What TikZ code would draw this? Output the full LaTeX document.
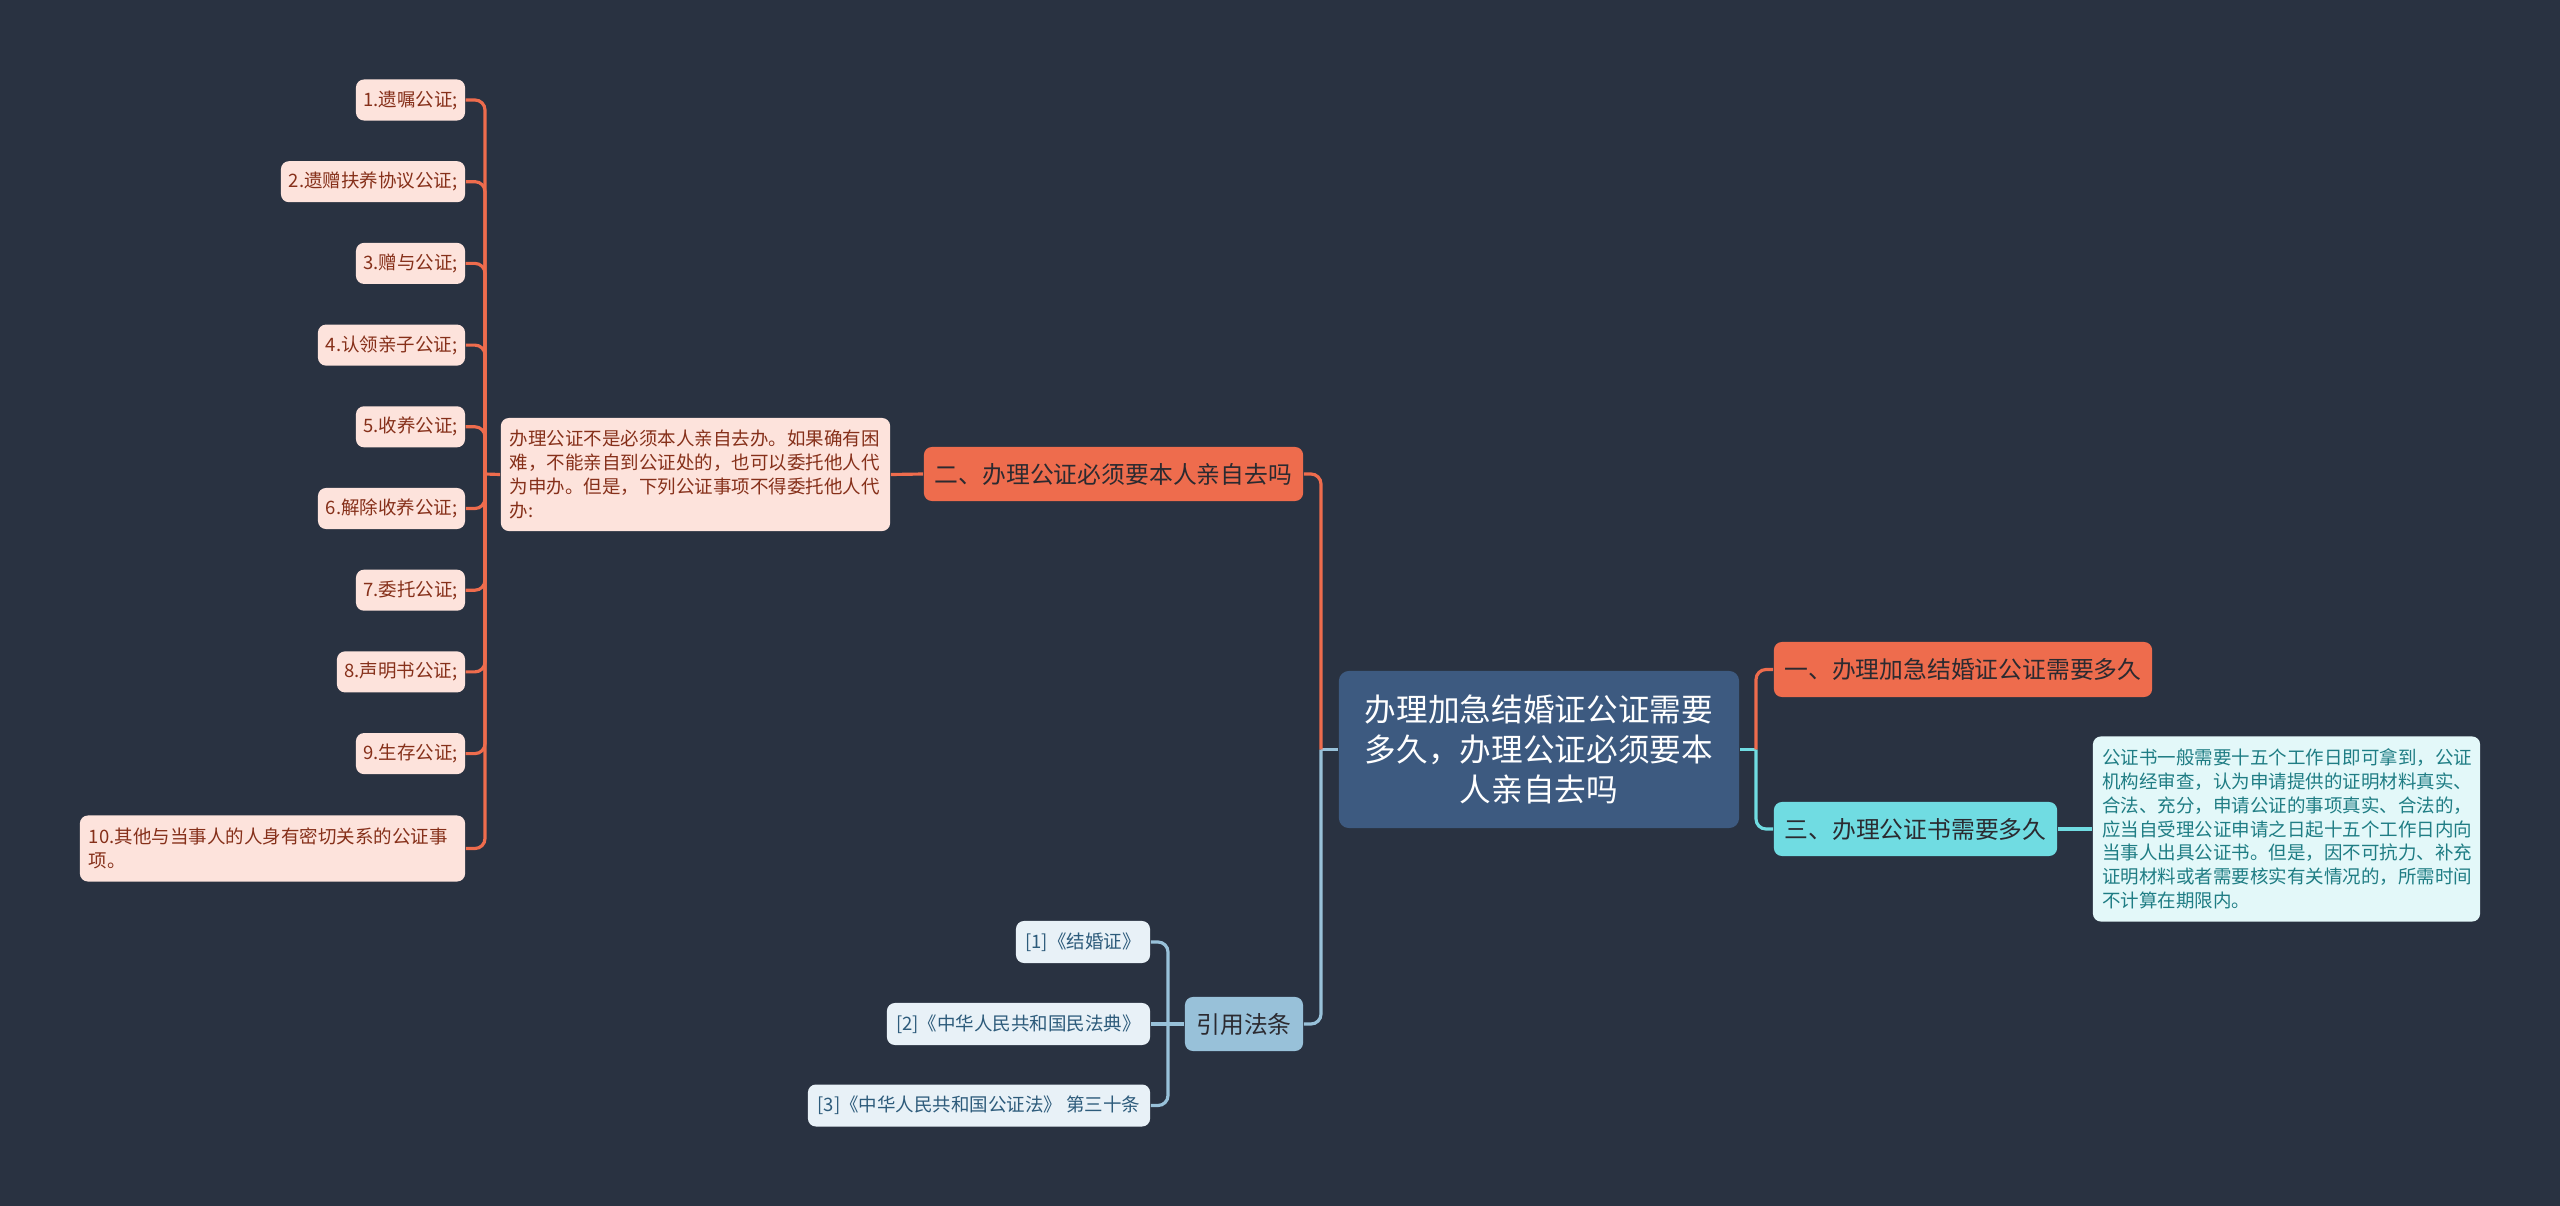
\documentclass[tikz,border=0pt]{standalone}
\usepackage{fontspec}
\newfontfamily\cjk{Noto Sans CJK SC}
\definecolor{bgc}{HTML}{293241}
\definecolor{rootc}{HTML}{3D5A80}
\definecolor{orangec}{HTML}{EE6C4D}
\definecolor{cyanc}{HTML}{70DCE2}
\definecolor{lightbc}{HTML}{98C1D9}
\definecolor{pinkc}{HTML}{FDE3DC}
\definecolor{redtc}{HTML}{86301A}
\definecolor{palec}{HTML}{E3F8F9}
\definecolor{tealtc}{HTML}{1F7D84}
\definecolor{refc}{HTML}{E8F1F7}
\definecolor{reftc}{HTML}{2D5B7B}
\definecolor{darktc}{HTML}{2B2A30}
\begin{document}
\begin{tikzpicture}[x=0.01cm,y=-0.01cm,
  basebox/.style={inner sep=0pt, rounded corners=0.08cm},
  smallfont/.style={font=\cjk\fontsize{5.26pt}{6.75pt}\selectfont},
  midfont/.style={font=\cjk\fontsize{6.77pt}{8.5pt}\selectfont},
  rootbox/.style={basebox, rounded corners=0.1cm, fill=rootc, text=white, align=center,
     font=\cjk\fontsize{9pt}{11.4pt}\selectfont, minimum width=4cm, minimum height=1.57cm},
  orangebox/.style={basebox, midfont, fill=orangec, text=darktc, minimum height=0.55cm},
  cyanbox/.style={basebox, midfont, fill=cyanc, text=darktc, minimum height=0.54cm},
  lawbox/.style={basebox, midfont, fill=lightbc, text=darktc, minimum height=0.54cm},
  pinkbox/.style={basebox, smallfont, fill=pinkc, text=redtc, minimum height=0.41cm},
  detailbox/.style={basebox, smallfont, fill=palec, text=tealtc, align=left},
  refbox/.style={basebox, smallfont, fill=refc, text=reftc, minimum height=0.42cm},
  oline/.style={draw=orangec, line width=0.9pt, rounded corners=0.1cm},
  bline/.style={draw=lightbc, line width=0.9pt, rounded corners=0.1cm},
  cline/.style={draw=cyanc, line width=0.9pt, rounded corners=0.1cm}]
\fill[bgc] (0,0) rectangle (2560,1206);
\useasboundingbox (0,0) rectangle (2560,1206);

% root
\node[rootbox] (root) at (1539,749.5) {办理加急结婚证公证需要\\多久，办理公证必须要本\\人亲自去吗};

% right side
\node[orangebox, minimum width=3.78cm] (n1) at (1963,669.5) {一、办理加急结婚证公证需要多久};
\node[cyanbox, minimum width=2.83cm] (n3) at (1915.5,829) {三、办理公证书需要多久};
\node[detailbox, text width=3.68cm, inner xsep=0.095cm, minimum height=1.85cm] (det) at (2286.5,829)
 {公证书一般需要十五个工作日即可拿到，公证\\机构经审查，认为申请提供的证明材料真实、\\合法、充分，申请公证的事项真实、合法的，\\应当自受理公证申请之日起十五个工作日内向\\当事人出具公证书。但是，因不可抗力、补充\\证明材料或者需要核实有关情况的，所需时间\\不计算在期限内。};

% left side
\node[orangebox, minimum width=3.79cm, minimum height=0.54cm] (n2) at (1113.5,474) {二、办理公证必须要本人亲自去吗};
\node[pinkbox, align=left, text width=3.71cm, inner xsep=0.09cm, minimum height=1.13cm] (desc) at (695.5,474.5)
 {办理公证不是必须本人亲自去办。如果确有困\\难，不能亲自到公证处的，也可以委托他人代\\为申办。但是，下列公证事项不得委托他人代\\办:};

\node[pinkbox, minimum width=1.09cm] (i1) at (410.5,100) {1.遗嘱公证;};
\node[pinkbox, minimum width=1.84cm] (i2) at (373,181.7) {2.遗赠扶养协议公证;};
\node[pinkbox, minimum width=1.09cm] (i3) at (410.5,263.4) {3.赠与公证;};
\node[pinkbox, minimum width=1.47cm] (i4) at (391.5,345.1) {4.认领亲子公证;};
\node[pinkbox, minimum width=1.09cm] (i5) at (410.5,426.8) {5.收养公证;};
\node[pinkbox, minimum width=1.47cm] (i6) at (391.5,508.5) {6.解除收养公证;};
\node[pinkbox, minimum width=1.09cm] (i7) at (410.5,590.2) {7.委托公证;};
\node[pinkbox, minimum width=1.28cm] (i8) at (401,671.9) {8.声明书公证;};
\node[pinkbox, minimum width=1.09cm] (i9) at (410.5,753.6) {9.生存公证;};
\node[pinkbox, align=left, text width=3.67cm, inner xsep=0.09cm, minimum height=0.66cm] (i10) at (272.5,848.5)
 {10.其他与当事人的人身有密切关系的公证事\\项。};

% references
\node[lawbox, minimum width=1.18cm] (law) at (1244,1024) {引用法条};
\node[refbox, minimum width=1.34cm] (r1) at (1083,942) {[1]《结婚证》};
\node[refbox, minimum width=2.63cm] (r2) at (1018.5,1024) {[2]《中华人民共和国民法典》};
\node[refbox, minimum width=3.42cm] (r3) at (979,1105.5) {[3]《中华人民共和国公证法》 第三十条};

% connectors
\coordinate (jl) at (1321,749.5);
\coordinate (jr) at (1756,749.5);
\coordinate (js) at (485,474);
\coordinate (jf) at (1168,1024);

\draw[cline] (root.east) -- (jr);
\draw[oline] (jr) -- (jr |- n1.west) -- (n1.west);
\draw[cline] (jr) -- (jr |- n3.west) -- (n3.west);
\draw[cline] (n3.east) -- (det.west);

\draw[bline] (root.west) -- (jl);
\draw[oline] (jl) -- (jl |- n2.east) -- (n2.east);
\draw[bline] (jl) -- (jl |- law.east) -- (law.east);
\draw[oline] (n2.west) -- (desc.east);
\draw[oline] (desc.west) -- (js);
\foreach \i in {i1,i2,i3,i4,i5,i6,i7,i8,i9,i10}{
  \draw[oline] (js) -- (js |- \i.east) -- (\i.east);
}
\draw[bline] (law.west) -- (jf);
\draw[bline] (jf) -- (jf |- r1.east) -- (r1.east);
\draw[bline] (jf) -- (r2.east);
\draw[bline] (jf) -- (jf |- r3.east) -- (r3.east);
\end{tikzpicture}
\end{document}
